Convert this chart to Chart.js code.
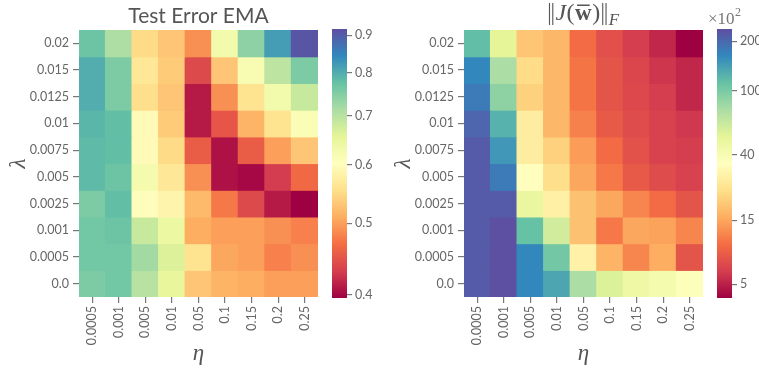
<!DOCTYPE html>
<html>
<head>
<meta charset="utf-8">
<script src="https://cdn.jsdelivr.net/npm/chart.js@4.4.0/dist/chart.umd.min.js"></script>
<style>
  body { margin: 0; background: #fff; }
  #wrap { position: relative; width: 759px; height: 371px; overflow: hidden; }
  #wrap canvas { position: absolute; top: 0; }
</style>
</head>
<body>
<div id="wrap">
  <canvas id="errMap" width="380" height="371" style="left:0px"></canvas>
  <canvas id="errBar" width="60" height="371" style="left:320px"></canvas>
  <canvas id="jacMap" width="380" height="371" style="left:380px"></canvas>
  <canvas id="jacBar" width="54" height="371" style="left:705px"></canvas>
</div>
<script>
// learning rates (columns) and weight decay values (rows, top to bottom)
const etas = ['0.0005', '0.001', '0.005', '0.01', '0.05', '0.1', '0.15', '0.2', '0.25'];
const lambdas = ['0.02', '0.015', '0.0125', '0.01', '0.0075', '0.005', '0.0025', '0.001', '0.0005', '0.0'];

// test error of the EMA model, one row per lambda
const errEma = [
    [0.77, 0.71, 0.55, 0.53, 0.49, 0.63, 0.74, 0.82, 0.91],
    [0.80, 0.755, 0.565, 0.535, 0.44, 0.53, 0.62, 0.695, 0.755],
    [0.80, 0.755, 0.555, 0.53, 0.41, 0.49, 0.56, 0.63, 0.685],
    [0.79, 0.78, 0.595, 0.535, 0.41, 0.45, 0.515, 0.56, 0.615],
    [0.785, 0.78, 0.595, 0.55, 0.455, 0.405, 0.455, 0.50, 0.53],
    [0.785, 0.77, 0.625, 0.565, 0.49, 0.405, 0.40, 0.43, 0.465],
    [0.755, 0.78, 0.60, 0.585, 0.52, 0.475, 0.44, 0.41, 0.396],
    [0.765, 0.77, 0.685, 0.64, 0.51, 0.50, 0.50, 0.49, 0.48],
    [0.765, 0.765, 0.72, 0.665, 0.56, 0.505, 0.50, 0.48, 0.49],
    [0.755, 0.765, 0.70, 0.65, 0.53, 0.515, 0.51, 0.50, 0.50]
];

// Frobenius norm of the jacobian at the averaged weights, in units of 1e2
const jacNorm = [
    [115, 52, 19, 17, 10, 7.7, 6.4, 5.3, 3.8],
    [163, 76, 23, 17, 10.7, 8, 7, 6, 5.3],
    [178, 90, 21, 17, 10.7, 8, 7.1, 6.4, 5.3],
    [205, 125, 28, 17, 11.7, 8.5, 7.4, 6.7, 6.1],
    [220, 148, 28, 21, 14, 10, 7.8, 6.7, 6.4],
    [220, 178, 35, 23.6, 15, 11, 8.5, 7.4, 6.7],
    [220, 220, 48, 29, 18.5, 15, 12, 10, 8],
    [220, 236, 112, 60, 18.5, 11, 15, 14.5, 12],
    [220, 236, 163, 104, 29.5, 16.5, 12, 15.7, 8],
    [220, 236, 163, 135, 76, 56, 46, 42, 37]
];

const errTicks = [0.4, 0.5, 0.6, 0.7, 0.8, 0.9];
const jacTicks = [5, 15, 40, 100, 200];
const errLimits = [0.396, 0.918];
const jacLimits = [3.8, 238];

// matplotlib "Spectral"
const spectral = ['#9e0142', '#d53e4f', '#f46d43', '#fdae61', '#fee08b', '#ffffbf',
                  '#e6f598', '#abdda4', '#66c2a5', '#3288bd', '#5e4fa2'];

function hexRgb(h) {
    return [parseInt(h.slice(1, 3), 16), parseInt(h.slice(3, 5), 16), parseInt(h.slice(5, 7), 16)];
}
const spectralRgb = spectral.map(hexRgb);

function spectralAt(t) {
    t = Math.max(0, Math.min(1, t));
    const p = t * 10;
    const i = Math.min(9, Math.floor(p));
    const f = p - i;
    const a = spectralRgb[i], b = spectralRgb[i + 1];
    const c = a.map((x, k) => Math.round(x + (b[k] - x) * f));
    return 'rgb(' + c.join(',') + ')';
}

// colour scales: log for the error, shifted log for the jacobian norm
const jacShift = 2;
const jacU = v => Math.log10(v + jacShift);
const errNorm = v => (Math.log10(v) - Math.log10(errLimits[0])) / (Math.log10(errLimits[1]) - Math.log10(errLimits[0]));
const jacNormT = v => (jacU(v) - jacU(jacLimits[0])) / (jacU(jacLimits[1]) - jacU(jacLimits[0]));

const GREY = '#666';
const tickFont = { family: 'Lato', size: 12.5 };

Chart.defaults.animation = false;
Chart.defaults.plugins.legend.display = false;
Chart.defaults.plugins.tooltip.enabled = false;

function serif(style, size) {
    return style + ' ' + size + 'px "Liberation Serif", "DejaVu Serif", serif';
}

function heatmap(id, rows, norm, padRight, yWidth, decorate) {
    const n = lambdas.length;
    const datasets = rows.map((row, k) => {
        const level = n - 1 - k;
        return {
            data: row.map(() => [level, level + 1]),
            backgroundColor: row.map(v => spectralAt(norm(v))),
            borderWidth: 0,
            inflateAmount: 0.6,
            barPercentage: 1,
            categoryPercentage: 1,
            grouped: false
        };
    });
    return new Chart(document.getElementById(id), {
        type: 'bar',
        data: { labels: etas, datasets: datasets },
        options: {
            responsive: false,
            layout: { padding: { left: 0, top: 30, right: padRight, bottom: 0 } },
            scales: {
                x: {
                    grid: { drawOnChartArea: false, offset: false, tickLength: 6, color: '#777', lineWidth: 1.2 },
                    border: { display: false },
                    ticks: { color: GREY, font: tickFont, minRotation: 90, maxRotation: 90, autoSkip: false, padding: 3 },
                    afterFit: s => { s.height = 74; }
                },
                y: {
                    min: 0, max: n,
                    afterBuildTicks: s => { s.ticks = lambdas.map((_, k) => ({ value: n - 1 - k + 0.5 })); },
                    grid: { drawOnChartArea: false, tickLength: 6, color: '#777', lineWidth: 1.2 },
                    border: { display: false },
                    ticks: {
                        color: GREY, font: tickFont, padding: 4,
                        callback: v => lambdas[n - 1 - Math.floor(v)]
                    },
                    afterFit: s => { s.width = yWidth; }
                }
            }
        },
        plugins: [{ id: 'labels', afterDraw: decorate }]
    });
}

function colorbar(id, lo, hi, yScale, padLeft, yWidth, decorate) {
    return new Chart(document.getElementById(id), {
        type: 'bar',
        data: {
            labels: [''],
            datasets: [{
                data: [[lo, hi]],
                borderWidth: 0,
                barPercentage: 1,
                categoryPercentage: 1,
                backgroundColor: ctx => {
                    const area = ctx.chart.chartArea;
                    if (!area) return spectral[5];
                    const g = ctx.chart.ctx.createLinearGradient(0, area.bottom, 0, area.top);
                    spectral.forEach((c, i) => g.addColorStop(i / 10, c));
                    return g;
                }
            }]
        },
        options: {
            responsive: false,
            layout: { padding: { left: padLeft, top: 29, right: 0, bottom: 73 } },
            scales: {
                x: { display: false },
                y: Object.assign({
                    position: 'right',
                    min: lo, max: hi,
                    grid: { drawOnChartArea: false, tickLength: 5, color: '#777', lineWidth: 1.2 },
                    border: { display: false },
                    ticks: { color: GREY, font: tickFont, padding: 3 },
                    afterFit: s => { s.width = yWidth; }
                }, yScale)
            }
        },
        plugins: decorate ? [{ id: 'labels', afterDraw: decorate }] : []
    });
}

// axis letters under / beside each map
function axisLetters(chart, lamX) {
    const ctx = chart.ctx, a = chart.chartArea;
    ctx.save();
    ctx.fillStyle = '#555';
    ctx.font = serif('italic', 23);
    ctx.textAlign = 'center';
    ctx.textBaseline = 'alphabetic';
    ctx.fillText('η', (a.left + a.right) / 2, 360);
    ctx.translate(lamX, (a.top + a.bottom) / 2);
    ctx.rotate(-Math.PI / 2);
    ctx.fillText('λ', 0, 0);
    ctx.restore();
}

heatmap('errMap', errEma, errNorm, 62, 79, chart => {
    const ctx = chart.ctx, a = chart.chartArea;
    ctx.save();
    ctx.fillStyle = '#555';
    ctx.font = '21px Lato';
    ctx.textAlign = 'center';
    ctx.textBaseline = 'alphabetic';
    ctx.fillText('Test Error EMA', (a.left + a.right) / 2, 23);
    ctx.restore();
    axisLetters(chart, 25);
});

heatmap('jacMap', jacNorm, jacNormT, 57, 84, chart => {
    const ctx = chart.ctx, a = chart.chartArea;
    // ||J(w̄)||_F built piece by piece; a null text is a norm bar pair
    const parts = [
        [null, 8], ['J', serif('italic', 24), 0], ['(', serif('', 24), 0],
        ['w', serif('bold', 23), 0], [')', serif('', 24), 0], [null, 8],
        ['F', serif('italic', 17), 5]
    ];
    const widthOf = p => {
        if (p[0] === null) return p[1];
        ctx.font = p[1];
        return ctx.measureText(p[0]).width + 0.5;
    };
    ctx.save();
    ctx.fillStyle = '#555';
    ctx.textBaseline = 'alphabetic';
    const total = parts.reduce((s, p) => s + widthOf(p), 0);
    let x = (a.left + a.right) / 2 - total / 2;
    parts.forEach(p => {
        const w = widthOf(p);
        if (p[0] === null) {
            ctx.fillRect(x + 1.5, 3, 1.1, 22);
            ctx.fillRect(x + 4.8, 3, 1.1, 22);
        } else {
            ctx.font = p[1];
            ctx.fillText(p[0], x, 20 + p[2]);
            if (p[0] === 'w') ctx.fillRect(x + 2, 4.5, w - 4.5, 1.5);
        }
        x += w;
    });
    ctx.restore();
    axisLetters(chart, 30);
});

colorbar('errBar', errLimits[0], errLimits[1], {
    type: 'logarithmic',
    afterBuildTicks: s => { s.ticks = errTicks.map(v => ({ value: v })); },
    ticks: { color: GREY, font: tickFont, padding: 3, callback: v => v.toFixed(1) }
}, 12, 33);

colorbar('jacBar', jacU(jacLimits[0]), jacU(jacLimits[1]), {
    type: 'linear',
    afterBuildTicks: s => { s.ticks = jacTicks.map(v => ({ value: jacU(v) })); },
    ticks: { color: GREY, font: tickFont, padding: 3, callback: (v, i) => String(jacTicks[i]) }
}, 12, 27, chart => {
    const ctx = chart.ctx;
    ctx.save();
    ctx.fillStyle = '#777';
    ctx.textBaseline = 'alphabetic';
    ctx.font = serif('', 17);
    ctx.fillText('×10', 3, 24);
    const w = ctx.measureText('×10').width;
    ctx.font = serif('', 12);
    ctx.fillText('2', 3 + w + 0.5, 16);
    ctx.restore();
});
</script>
</body>
</html>
